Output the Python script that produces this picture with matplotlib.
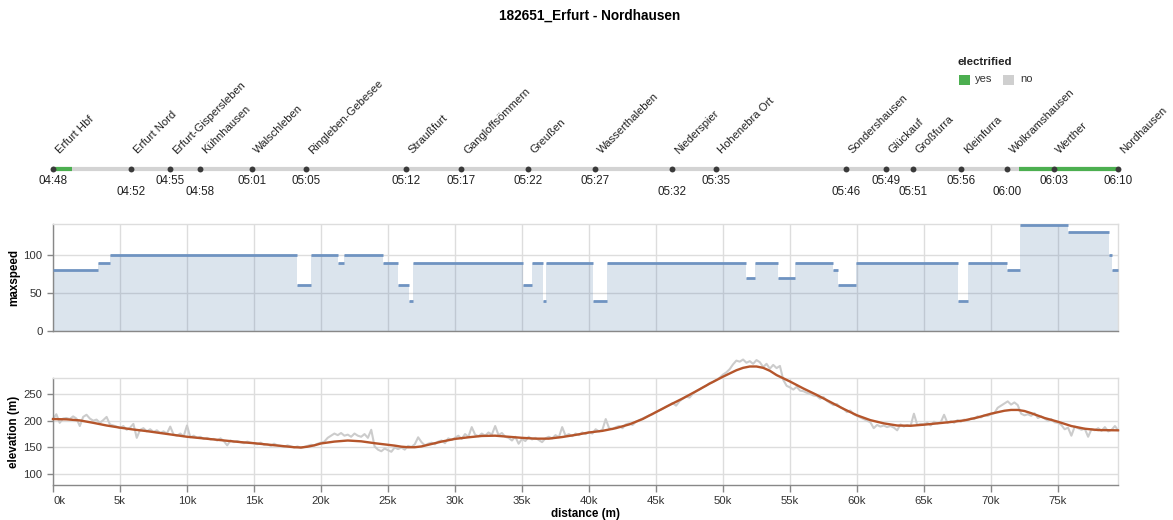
import numpy as np
import matplotlib
matplotlib.use("Agg")
import matplotlib.pyplot as plt
from matplotlib.patches import Rectangle
import matplotlib.transforms as mtransforms

plt.rcParams['font.family'] = ['Liberation Sans', 'DejaVu Sans']

# ---------------- data ----------------
title = "182651_Erfurt - Nordhausen"
route_length = 79480

stations = ["Erfurt Hbf", "Erfurt Nord", "Erfurt-Gispersleben", "Kühnhausen", "Walschleben",
            "Ringleben-Gebesee", "Straußfurt", "Gangloffsömmern", "Greußen", "Wasserthaleben",
            "Niederspier", "Hohenebra Ort", "Sondershausen", "Glückauf", "Großfurra",
            "Kleinfurra", "Wolkramshausen", "Werther", "Nordhausen"]
station_dist = [0, 5840, 8730, 10970, 14830, 18900, 26320, 30450, 35450, 40470,
                46190, 49460, 59200, 62140, 64160, 67780, 71220, 74700, 79480]
station_time = ["04:48", "04:52", "04:55", "04:58", "05:01", "05:05", "05:12", "05:17",
                "05:22", "05:27", "05:32", "05:35", "05:46", "05:49", "05:51", "05:56",
                "06:00", "06:03", "06:10"]
time_row = [0, 1, 0, 1, 0, 0, 0, 0, 0, 0, 1, 0, 1, 0, 1, 0, 1, 0, 0]

electrified_start = [0, 72090]
electrified_end = [1400, 79480]

speed_start = [0, 3340, 4250, 18230, 19230, 21250, 21740, 24650, 25770, 26590, 26890,
               35100, 35770, 36550, 36770, 40280, 41370, 51690, 52390, 54130, 55350,
               58190, 58560, 59950, 67560, 68260, 71170, 72190, 75750, 78810, 79010]
speed_value = [80, 90, 100, 60, 100, 90, 100, 90, 60, 40, 90,
               60, 90, 40, 90, 40, 90, 70, 90, 70, 90,
               80, 60, 90, 40, 90, 80, 140, 130, 100, 80]

raw_step = 250
elev_raw = [203, 212, 196, 204, 205, 203, 208, 204, 190, 207, 211, 204,
            200, 202, 196, 201, 207, 193, 191, 189, 186, 190, 183, 187,
            194, 168, 183, 186, 180, 184, 179, 182, 177, 180, 176, 189,
            174, 172, 176, 171, 191, 169, 172, 168, 170, 166, 168, 165,
            166, 163, 167, 162, 154, 163, 160, 162, 160, 158, 161, 159,
            158, 156, 159, 155, 156, 153, 157, 154, 153, 151, 154, 152,
            150, 152, 149, 151, 153, 155, 154, 157, 159, 161, 168, 172,
            176, 173, 177, 172, 174, 170, 176, 172, 170, 175, 168, 183,
            152, 146, 143, 148, 145, 142, 150, 147, 150, 146, 153, 151,
            156, 169, 160, 154, 157, 159, 156, 161, 163, 158, 167, 164,
            168, 172, 166, 175, 170, 188, 174, 171, 176, 172, 178, 174,
            190, 173, 177, 170, 168, 163, 170, 157, 166, 162, 170, 165,
            168, 164, 160, 167, 170, 167, 173, 169, 188, 172, 175, 171,
            176, 173, 178, 175, 179, 176, 184, 180, 183, 203, 186, 184,
            188, 190, 186, 193, 195, 192, 198, 201, 204, 207, 210, 212,
            216, 219, 222, 226, 229, 233, 228, 236, 241, 245, 243, 250,
            255, 258, 262, 265, 270, 272, 276, 280, 286, 290, 296, 305,
            312, 310, 314, 308, 311, 306, 313, 309, 300, 306, 297, 304,
            298, 302, 276, 265, 262, 258, 263, 256, 255, 252, 250, 247,
            246, 241, 244, 237, 233, 229, 231, 225, 222, 216, 219, 212,
            209, 206, 203, 200, 197, 186, 192, 189, 191, 188, 190, 187,
            182, 193, 189, 192, 190, 213, 192, 194, 193, 196, 191, 198,
            195, 197, 211, 196, 199, 196, 201, 198, 202, 200, 204, 203,
            208, 206, 210, 209, 212, 214, 224, 228, 232, 236, 230, 234,
            229, 213, 210, 212, 209, 214, 205, 208, 204, 200, 203, 197,
            196, 192, 184, 187, 172, 189, 186, 183, 185, 170, 184, 182,
            186, 181, 188, 180, 183, 190, 182]

smooth_dist = [0, 1000, 2000, 3000, 4000, 5000, 6000, 7000, 8000, 9000,
               10000, 11000, 12000, 13000, 14000, 15000, 16000, 17000, 18000, 18500,
               19000, 19500, 20000, 21000, 22000, 23000, 24000, 25000, 25500, 26000,
               26500, 27000, 27500, 28000, 29000, 30000, 31000, 32000, 33000, 34000,
               35000, 36000, 37000, 38000, 39000, 40000, 41000, 42000, 43000, 44000,
               45000, 46000, 47000, 48000, 49000, 50000, 50500, 51000, 51500, 52000,
               52500, 53000, 53500, 54000, 54500, 55000, 56000, 57000, 58000, 59000,
               60000, 61000, 62000, 63000, 64000, 65000, 66000, 67000, 68000, 69000,
               70000, 71000, 71500, 72000, 72500, 73000, 74000, 75000, 76000, 77000,
               78000, 79480]
smooth_elev = [203, 202.5, 200.5, 196, 191, 187, 183.5, 180.5, 177, 173.5,
               170, 167.5, 165, 162.5, 160, 158, 155.5, 153, 150.5, 150,
               151.5, 154, 157.5, 161, 163, 161.5, 158, 155, 153.5, 151.5,
               150.5, 150.5, 152, 155, 161, 166, 169, 171.5, 172, 170,
               168, 166.5, 166.5, 169.5, 173.5, 178, 181, 186, 193, 203,
               216, 229, 241.5, 255, 269, 282, 288, 294, 298.5, 301,
               301, 298.5, 293, 285, 279, 273, 260, 248, 235, 222,
               210, 201, 195, 191, 190.5, 192.5, 195, 197.5, 200.5, 206,
               213, 218.5, 220, 220, 218, 214, 205, 198, 190, 185,
               182.5, 182]

# ---------------- layout helpers ----------------
W, H = 1173, 520
def fx(px):
    return px / W
def fy(py):
    return 1 - py / H

fig = plt.figure(figsize=(W / 100, H / 100), dpi=100)
X0, X1 = 53, 1118

# title
fig.text(fx(590), fy(16), title, ha='center', va='center', fontsize=9.8, fontweight='bold')

# legend
fig.text(fx(958), fy(62), "electrified", ha='left', va='center', fontsize=8.2, fontweight='bold', color='#222')
fig.patches.append(Rectangle((fx(959), fy(84.5)), fx(11), 9.5 / H, transform=fig.transFigure,
                             facecolor='#4caf50', edgecolor='none'))
fig.text(fx(975), fy(79.5), "yes", ha='left', va='center', fontsize=8, color='#333')
fig.patches.append(Rectangle((fx(1003), fy(84.5)), fx(11), 9.5 / H, transform=fig.transFigure,
                             facecolor='#cfcfcf', edgecolor='none'))
fig.text(fx(1020), fy(79.5), "no", ha='left', va='center', fontsize=8, color='#333')

# ---------------- station axis ----------------
ax_st = fig.add_axes([fx(X0), fy(205), fx(X1 - X0), 105 / H])
ax_st.set_xlim(0, route_length)
ax_st.set_ylim(205, 100)
ax_st.axis('off')
track_y = 169.5
ax_st.plot([0, route_length], [track_y, track_y], color='#d3d3d3', lw=3, solid_capstyle='butt',
           clip_on=False, zorder=1)
for s, e in zip(electrified_start, electrified_end):
    ax_st.plot([s, e], [track_y, track_y], color='#4caf50', lw=3, solid_capstyle='butt',
               clip_on=False, zorder=2)
ax_st.scatter(station_dist, [track_y] * len(station_dist), s=18, color='#3a3a3a', zorder=3,
              clip_on=False, linewidths=0)
lab_tr = mtransforms.offset_copy(ax_st.transData, fig=fig, x=6.5, y=0, units='dots')
for name, d, t, r in zip(stations, station_dist, station_time, time_row):
    ax_st.text(d, 154.5, name, rotation=45, rotation_mode='anchor', ha='left', va='baseline',
               fontsize=8.1, color='#222', transform=lab_tr, clip_on=False)
    ax_st.text(d, 181 if r == 0 else 192, t, ha='center', va='center', fontsize=8.4,
               color='#222', clip_on=False)

# ---------------- common axis styling ----------------
def style(ax):
    for sp in ['top', 'right']:
        ax.spines[sp].set_color('#dddddd')
        ax.spines[sp].set_linewidth(1)
    for sp in ['left', 'bottom']:
        ax.spines[sp].set_color('#888888')
        ax.spines[sp].set_linewidth(1)
    ax.grid(True, color='#dddddd', lw=1)
    ax.set_axisbelow(True)
    ax.tick_params(colors='#888888', labelcolor='#333333', labelsize=8.2, length=4, width=1)
    ax.set_xticks(np.arange(0, 80000, 5000))

# ---------------- maxspeed ----------------
ax_sp = fig.add_axes([fx(X0), fy(331), fx(X1 - X0), (331 - 224) / H])
ax_sp.set_xlim(0, route_length)
ax_sp.set_ylim(0, 141)
style(ax_sp)
ax_sp.set_yticks([0, 50, 100])
ax_sp.tick_params(axis='x', length=0, labelbottom=False)
sp_x = speed_start + [route_length]
sp_y = speed_value + [speed_value[-1]]
ax_sp.fill_between(sp_x, 0, sp_y, step='post', color='#4c78a8', alpha=0.2, linewidth=0, zorder=2)
speed_end = speed_start[1:] + [route_length]
ax_sp.hlines(speed_value, speed_start, speed_end, color='#6f93c1', lw=2, zorder=3, clip_on=False)
ax_sp.set_ylabel("maxspeed", fontsize=8.4, fontweight='bold', labelpad=6)
ax_sp.yaxis.set_label_coords(-0.031, 0.5)

# ---------------- elevation ----------------
ax_el = fig.add_axes([fx(X0), fy(484.5), fx(X1 - X0), (484.5 - 378.3) / H])
ax_el.set_xlim(0, route_length)
ax_el.set_ylim(81, 279)
style(ax_el)
ax_el.set_yticks([100, 150, 200, 250])
raw_x = np.arange(len(elev_raw)) * raw_step
ax_el.plot(raw_x, elev_raw, color='#cccccc', lw=1.5, zorder=2, clip_on=False)
ax_el.plot(smooth_dist, smooth_elev, color='#b5552b', lw=1.7, zorder=3, clip_on=False,
           solid_joinstyle='round')
ax_el.set_xticklabels([f"{int(v / 1000)}k" for v in np.arange(0, 80000, 5000)])
ax_el.get_xticklabels()[0].set_horizontalalignment('left')
ax_el.tick_params(axis='x', length=5, pad=3)
ax_el.set_xlabel("distance (m)", fontsize=8.4, fontweight='bold', labelpad=2)
ax_el.set_ylabel("elevation (m)", fontsize=8.4, fontweight='bold')
ax_el.yaxis.set_label_coords(-0.031, 0.5)

fig.savefig("out.png", dpi=100)
